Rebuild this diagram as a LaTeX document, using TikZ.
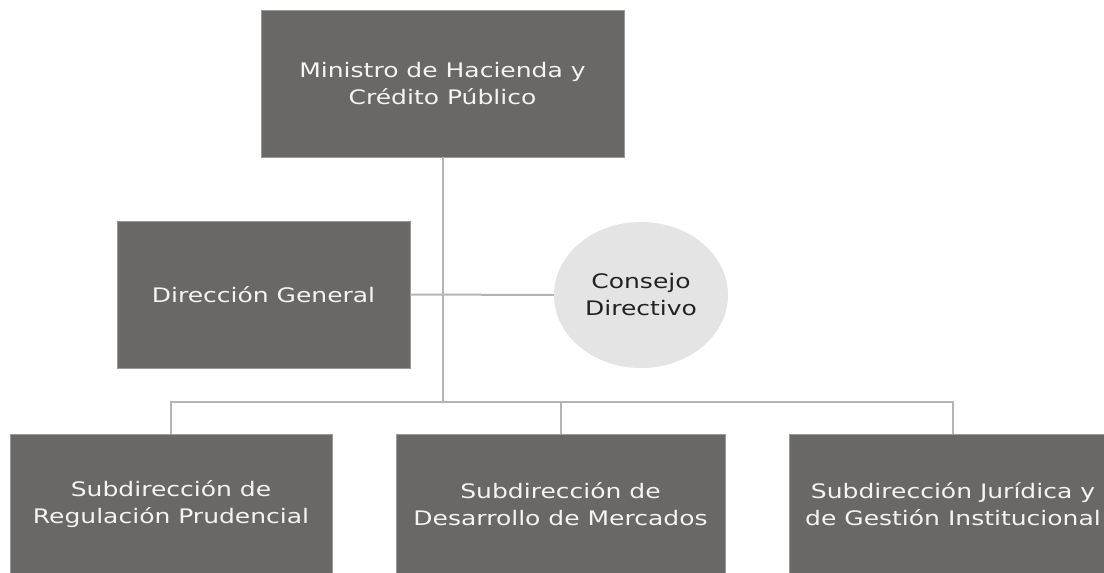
\documentclass[tikz,border=0pt]{standalone}
\usepackage{fontspec}
\setmainfont{DejaVu Sans}[FakeStretch=1.25]
\usetikzlibrary{shapes.geometric}
\definecolor{boxgray}{HTML}{696866}
\definecolor{edgegray}{HTML}{9A9A9A}
\definecolor{linegray}{HTML}{B4B4B4}
\definecolor{ovalgray}{HTML}{E4E4E4}
\definecolor{boxtext}{HTML}{F4F4F4}
\definecolor{ovaltext}{HTML}{222222}
\begin{document}
\begin{tikzpicture}[x=1pt,y=-1pt,
  unitbox/.style={rectangle, fill=boxgray, draw=edgegray, line width=0.8pt, text=boxtext, align=center, inner sep=0pt, font=\fontsize{20}{27}\selectfont},
  oval/.style={ellipse, fill=ovalgray, draw=none, text=ovaltext, align=center, inner sep=0pt, font=\fontsize{20}{27}\selectfont},
  link/.style={draw=linegray, line width=2pt}]
\useasboundingbox (0,0) rectangle (1104,573);
\clip (0,0) rectangle (1104,573);
\fill[white] (0,0) rectangle (1104,573);
\coordinate (bus) at (442.5,402);
\node[unitbox, minimum width=363pt, minimum height=147pt] (min) at (442.5,83.5) {Ministro de Hacienda y\\Crédito Público};
\node[unitbox, minimum width=293pt, minimum height=147pt] (dg) at (263.5,294.5) {Dirección General};
\node[oval, minimum width=174pt, minimum height=146pt] (cd) at (641,295) {Consejo\\Directivo};
\node[unitbox, minimum width=322pt, minimum height=140pt] (s1) at (171,504) {Subdirección de\\Regulación Prudencial};
\node[unitbox, minimum width=329pt, minimum height=140pt] (s2) at (560.5,504) {Subdirección de\\Desarrollo de Mercados};
\node[unitbox, minimum width=328pt, minimum height=140pt] (s3) at (953,504) {Subdirección Jurídica y\\de Gestión Institucional};
\draw[link] (min.south) -- (bus);
\draw[link] (dg.east) -- (cd.west);
\draw[link] (s1.north) |- (bus) -| (s3.north);
\draw[link] (s2.north) -- (s2.north |- bus);
\end{tikzpicture}
\end{document}
